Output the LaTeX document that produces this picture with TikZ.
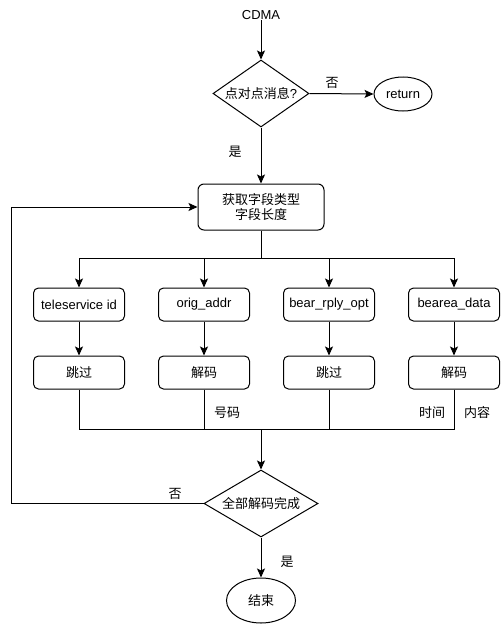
\documentclass[tikz,border=0pt]{standalone}
\usepackage{fontspec}
\setmainfont{Liberation Sans}
\newfontfamily\cjk{Noto Sans CJK SC}
\usetikzlibrary{shapes.geometric,arrows.meta}
\begin{document}
\begin{tikzpicture}[x=1pt,y=-1pt,
  font=\fontsize{13}{15}\selectfont,
  line width=1pt,
  arr/.style={-{Stealth[length=9pt,width=8pt,inset=2pt]}},
  box/.style={draw, rounded corners=5pt, minimum width=91pt, minimum height=33pt, inner sep=0pt},
  bigbox/.style={draw, rounded corners=6pt, minimum width=126pt, minimum height=46pt, inner sep=0pt, align=center},
  dia/.style={draw, diamond, inner sep=0pt},
  ell/.style={draw, ellipse, inner sep=0pt},
  lbl/.style={inner sep=0pt}
]
\useasboundingbox (0,0) rectangle (503,626);
\node[lbl] (cdma) at (261,15) {CDMA};
\node[dia, minimum width=96pt, minimum height=67pt, label={center:{\cjk 点对点消息}?}] (d1) at (261,93.5) {};
\node[ell, minimum width=58pt, minimum height=34pt] (ret) at (403,94) {return};
\node[bigbox] (get) at (261,207) {{\cjk 获取字段类型}\\{\cjk 字段长度}};
\node[box] (t1) at (79,304.5) {teleservice id};
\node[box] (t2) at (204,304.5) {orig\_addr};
\node[box] (t3) at (329,304.5) {bear\_rply\_opt};
\node[box] (t4) at (454,304.5) {bearea\_data};
\node[box] (b1) at (79,372.5) {\cjk 跳过};
\node[box] (b2) at (204,372.5) {\cjk 解码};
\node[box] (b3) at (329,372.5) {\cjk 跳过};
\node[box] (b4) at (454,372.5) {\cjk 解码};
\coordinate (split) at (261,258);
\coordinate (join) at (261,429);
\node[dia, minimum width=114pt, minimum height=67pt, label={center:{\cjk 全部解码完成}}] (d2) at (261,503.5) {};
\node[ell, minimum width=69pt, minimum height=45pt] (end) at (261,600.5) {\cjk 结束};
\coordinate (loopb) at (11,503.5);
\coordinate (loopt) at (11,207);
% labels
\node[lbl] (no1) at (332,83) {\cjk 否};
\node[lbl] (yes1) at (235,152) {\cjk 是};
\node[lbl] (no2) at (175,494) {\cjk 否};
\node[lbl] (yes2) at (287,562) {\cjk 是};
\node[lbl] (l1) at (227,413) {\cjk 号码};
\node[lbl] (l2) at (432,413) {\cjk 时间};
\node[lbl] (l3) at (477,413) {\cjk 内容};
% connectors
\draw[arr] (cdma) -- (d1.north);
\draw[arr] (d1.east) -- (ret.west);
\draw[arr] (d1.south) -- (get.north);
\draw (get.south) -- (split);
\draw[arr] (split) -| (t1.north);
\draw[arr] (split) -| (t2.north);
\draw[arr] (split) -| (t3.north);
\draw[arr] (split) -| (t4.north);
\draw[arr] (t1) -- (b1);
\draw[arr] (t2) -- (b2);
\draw[arr] (t3) -- (b3);
\draw[arr] (t4) -- (b4);
\draw (b1.south) |- (join);
\draw (b2.south) |- (join);
\draw (b3.south) |- (join);
\draw (b4.south) |- (join);
\draw[arr] (join) -- (d2.north);
\draw[arr] (d2.west) -- (loopb) -- (loopt) -- (get.west);
\draw[arr] (d2.south) -- (end.north);
\end{tikzpicture}
\end{document}
